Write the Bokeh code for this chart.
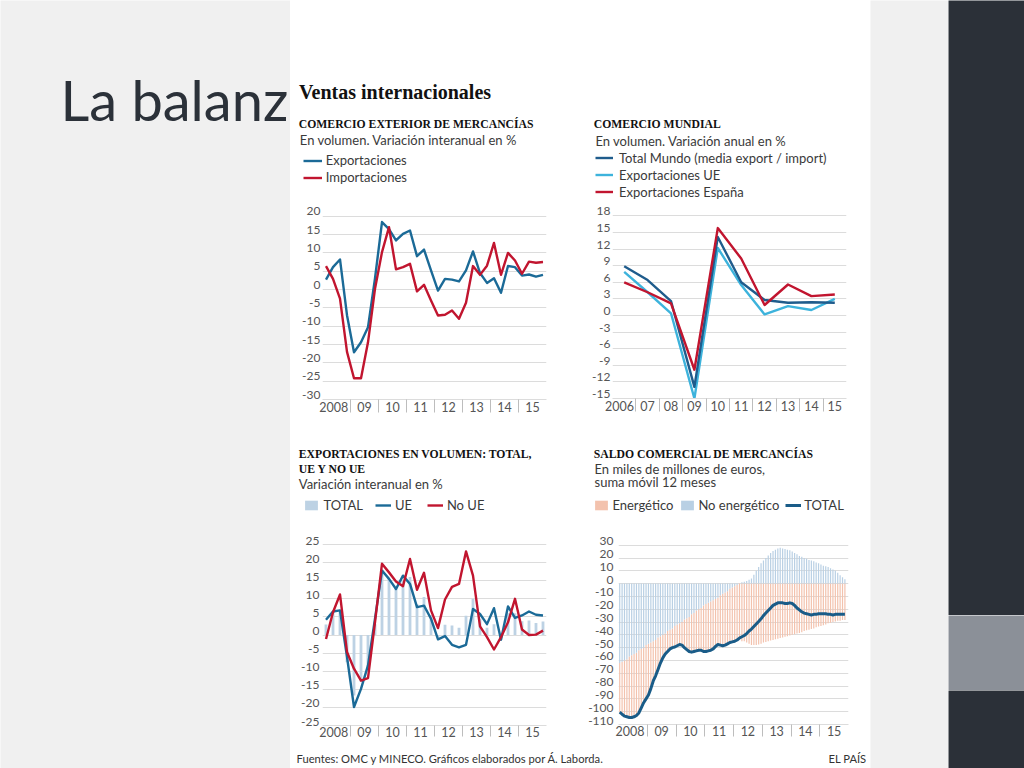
import numpy as np
from bokeh.plotting import figure
from bokeh.models import Range1d, LinearAxis, FixedTicker, Grid, Label, Legend, LegendItem
from bokeh.layouts import row, column
from bokeh.embed import file_html
from bokeh.resources import INLINE

# ---------------- data ----------------
years_q = [2008, 2009, 2010, 2011, 2012, 2013, 2014, 2015]
year_labels = ["2008", "09", "10", "11", "12", "13", "14", "15"]

# Comercio exterior de mercancías (quarterly, % y/y)
exportaciones = [2.7, 6.1, 8.2, -7.0, -17.1, -14.4, -10.3, 3.0, 18.4, 16.5, 13.4, 15.2,
                 16.1, 9.1, 10.9, 5.2, -0.3, 2.9, 2.7, 2.2, 5.2, 10.4, 4.5, 1.8,
                 3.1, -0.9, 6.4, 6.1, 3.8, 4.1, 3.5, 4.0]
importaciones = [6.4, 2.9, -2.5, -17.0, -24.2, -24.2, -14.4, 0.2, 10.2, 17.0, 5.5, 6.1,
                 7.0, -0.5, 1.3, -3.0, -7.1, -6.9, -5.7, -8.0, -3.6, 6.4, 4.0, 6.5,
                 12.7, 4.0, 10.0, 7.9, 4.3, 7.6, 7.3, 7.5]

# Comercio mundial (annual, %)
mundial_years = [2006, 2007, 2008, 2009, 2010, 2011, 2012, 2013, 2014, 2015]
mundial_labels = ["2006", "07", "08", "09", "10", "11", "12", "13", "14", "15"]
total_mundo = [8.9, 6.4, 2.6, -12.9, 14.2, 6.0, 2.8, 2.3, 2.4, 2.3]
export_ue = [7.9, 4.2, 0.4, -15.0, 12.2, 5.5, 0.2, 1.7, 1.0, 3.0]
export_espana = [6.0, 4.2, 2.2, -9.8, 15.8, 10.3, 1.9, 5.6, 3.5, 3.8]

# Exportaciones en volumen: total, UE y no UE (quarterly, % y/y)
total_vol = [2.9, 6.5, 6.8, -7.5, -16.7, -13.0, -10.0, 3.0, 18.0, 15.5, 13.0, 15.0,
             16.0, 8.5, 10.5, 5.5, -0.5, 2.8, 2.6, 2.0, 5.3, 10.0, 4.5, 2.0,
             3.0, -1.0, 6.0, 6.0, 3.8, 4.0, 3.3, 3.7]
ue_vol = [4.2, 6.5, 6.8, -6.0, -19.9, -14.9, -8.4, 4.5, 17.8, 15.5, 12.7, 16.4,
          14.1, 7.7, 8.1, 4.5, -1.2, -0.3, -2.7, -3.4, -2.7, 7.2, 5.8, 3.0,
          7.4, -1.3, 7.9, 4.7, 5.4, 6.5, 5.6, 5.4]
no_ue_vol = [-1.1, 6.3, 11.2, -4.7, -9.3, -12.6, -11.9, 3.5, 19.7, 17.3, 14.8, 13.5,
             21.0, 12.5, 17.2, 6.8, 1.9, 9.8, 13.3, 14.1, 23.1, 16.4, 2.4, -0.6,
             -4.0, -0.6, 3.5, 10.0, 1.5, 0.0, 0.1, 1.2]

# Saldo comercial de mercancías (monthly Jan 2008 - Nov 2015, bn EUR, 12-month sum)
no_energetico = [-62, -61, -60, -59, -57, -56, -55, -54, -52, -51, -50, -48,
                 -47, -46, -45, -44, -42, -41, -40, -39, -37, -36, -35, -33,
                 -32, -31, -30, -28, -27, -26, -24, -23, -21, -20, -19, -17,
                 -16, -15, -14, -13, -12, -11, -9, -8, -7, -6, -4, -3,
                 -2, -1, 0, 1, 1.5, 2, 3, 4, 7, 10, 13, 16,
                 18, 20, 22, 24, 25.5, 26.5, 27.5, 28, 27.5, 27, 26.5, 26,
                 25, 24, 23, 21.5, 21, 20, 19.5, 18.5, 18, 17.5, 16.5, 16,
                 15, 14, 13.5, 13, 12, 11, 10, 8.5, 6.5, 5, 3.5]
energetico = [-38.3, -41, -43.5, -45, -47.5, -48.5, -49, -49, -49, -46, -43, -42,
              -40, -36, -31, -28, -25, -21, -18, -16, -16, -15, -15, -16.5,
              -16.5, -16.5, -18, -22, -24.5, -27, -29.5, -30, -31.5, -32, -33, -36,
              -37, -37.5, -38, -38, -37, -36.5, -39, -40.5, -41, -41, -42, -42.5,
              -43, -43, -43.5, -45, -45, -46, -47, -48, -48, -48, -47.5, -47,
              -46, -45.5, -45, -44.5, -44, -43.5, -43, -42.5, -42, -41.5, -41, -40.5,
              -40, -39.5, -39, -38.5, -38, -37, -36.5, -36, -35.5, -35, -34, -33.5,
              -33, -32.5, -32, -31, -30.5, -30, -29.5, -29, -29, -28.5, -28.5]
saldo_total = [-100.3, -102, -103.5, -104, -104.5, -104.5, -104, -103, -101, -97, -93, -90,
               -87, -82, -76, -72, -67, -62, -58, -55, -53, -51, -50, -49.5,
               -48.5, -47.5, -48, -50, -51.5, -53, -53.5, -53, -52.5, -52, -52, -53,
               -53, -52.5, -52, -51, -49, -47.5, -48, -48.5, -48, -47, -46, -45.5,
               -45, -44, -42.5, -41.5, -40.5, -39, -37, -35.5, -33.5, -31.5, -29.5, -27.5,
               -25, -23, -21, -19, -17, -16, -15, -15, -15, -15.5, -15.5, -15,
               -15.5, -17, -19, -20.5, -22, -23, -23.5, -24, -24.5, -24, -24, -23.5,
               -23.5, -23.5, -23.5, -24, -24, -24.5, -24, -24, -24, -24, -24]

# ---------------- positions derived from the time categories ----------------
qx = [y + (q + 0.5) / 4 for y in years_q for q in range(4)]
mx = [2008 + (m + 0.5) / 12 for m in range(len(saldo_total))]
mid_years = [y + 0.5 for y in years_q]
label_pos_q = [mid_years[0] - 0.1] + mid_years[1:]
year_bounds = [y for y in years_q[1:]]
label_pos_w = [mundial_years[0] - 0.2] + mundial_years[1:]

# ---------------- styles ----------------
SANS = "Lato"
SERIF = "Liberation Serif"
GRID = "#dcdcdc"
TICK = "#555555"
TXT = "#3a3a3a"
BLUE = "#1b6a97"
RED = "#c1152f"
DARKBLUE = "#1f5c8c"
LIGHTBLUE = "#3db3dc"
BAR = "#bdd2e4"
SALMON = "#f3c2ad"
NEBLUE = "#b9d0e4"
TOTAL4 = "#1a5c88"
SLIDE = "#f0f0f0"
DARK = "#2b3038"
MID = "#8b9098"
TITLE_SIZE = 11.7
SUB_SIZE = 13
MID_K = 0.34  # text "middle" sits this fraction of the font size above the baseline


def strip_grids(p):
    p.center = [r for r in p.center if not isinstance(r, Grid)]


def no_align(p):
    try:
        p.frame_align = False
    except Exception:
        pass


def bg_fig(w, h, color):
    p = figure(width=w, height=h, x_range=(0, w), y_range=(0, h),
               x_axis_location=None, y_axis_location=None, toolbar_location=None,
               output_backend="svg", min_border=0)
    no_align(p)
    strip_grids(p)
    p.outline_line_color = None
    p.background_fill_color = color
    p.border_fill_color = color
    return p


def put(p, x, y_base, s, font=SANS, size=SUB_SIZE, color=TXT, bold=False, align="left"):
    p.add_layout(Label(x=x, y=y_base + MID_K * size, text=s, text_font=font,
                       text_font_size=f"{size}px", text_color=color,
                       text_font_style="bold" if bold else "normal",
                       text_baseline="middle", text_align=align))


def make_chart(w, h, mb, xr, y0, ppu, yticks, lab_off, y_standoff,
               xticks, xlabels, xminor, x_gap, sep_len):
    ml, mr, mt, mbot = mb
    fh = h - mt - mbot
    y1 = y0 + fh / ppu
    p = figure(width=w, height=h, x_range=Range1d(*xr), y_range=Range1d(y0, y1),
               x_axis_location="below", y_axis_location=None, toolbar_location=None,
               output_backend="svg", min_border_left=ml, min_border_right=mr,
               min_border_top=mt, min_border_bottom=mbot)
    no_align(p)
    strip_grids(p)
    p.outline_line_color = None
    p.background_fill_color = "white"
    p.border_fill_color = "white"
    d = lab_off / ppu
    p.extra_y_ranges = {"lab": Range1d(y0 - d, y1 - d)}
    ya = LinearAxis(y_range_name="lab", ticker=FixedTicker(ticks=yticks))
    ya.major_label_overrides = {t: str(t) for t in yticks}
    ya.axis_line_color = None
    ya.major_tick_out = 0
    ya.major_tick_in = 0
    ya.minor_tick_out = 0
    ya.minor_tick_in = 0
    ya.major_label_standoff = y_standoff
    ya.major_label_text_font = SANS
    ya.major_label_text_font_size = "12px"
    ya.major_label_text_color = TICK
    p.add_layout(ya, "left")
    p.add_layout(Grid(dimension=1, ticker=FixedTicker(ticks=yticks),
                      grid_line_color=GRID, grid_line_width=1))
    xa = p.xaxis[0]
    xa.ticker = FixedTicker(ticks=xticks, minor_ticks=xminor)
    xa.major_label_overrides = {t: l for t, l in zip(xticks, xlabels)}
    xa.major_tick_out = 0
    xa.major_tick_in = 0
    xa.minor_tick_in = 0
    xa.minor_tick_out = sep_len
    xa.minor_tick_line_color = "#bdbdbd"
    xa.axis_line_color = GRID
    # labels sit beside the year separators, not below them
    xa.major_label_standoff = x_gap - sep_len
    xa.major_label_text_font = SANS
    xa.major_label_text_font_size = "12.5px"
    xa.major_label_text_color = TICK
    return p


def legend(h, items, loc, orientation="vertical", glyph_w=18, glyph_h=15, standoff=5, spacing=1):
    lg = Legend(items=[LegendItem(label=l, renderers=[r]) for l, r in items],
                location=loc, orientation=orientation, glyph_width=glyph_w, glyph_height=glyph_h,
                label_height=15, label_standoff=standoff, spacing=spacing, padding=0, margin=0,
                background_fill_alpha=0, border_line_alpha=0,
                label_text_font=SANS, label_text_font_size=f"{SUB_SIZE}px", label_text_color=TXT)
    h.add_layout(lg)


# legend keys: the series drawn again in the header panel, where they fall outside its range
def key_line(h, xs, ys, color, width=2.4):
    return h.line(xs, ys, line_color=color, line_width=width)


def key_box(h, xs, ys, color):
    return h.vbar(x=xs, top=ys, width=0.1, fill_color=color, line_color=None)


# ---------------- chart 1 ----------------
h1 = bg_fig(290, 95, "white")
put(h1, 8.3, 74.7, "COMERCIO EXTERIOR DE MERCANCÍAS", font=SERIF, size=TITLE_SIZE, color="#111111", bold=True)
put(h1, 9.3, 58.7, "En volumen. Variación interanual en %")
legend(h1, [("Exportaciones", key_line(h1, qx, exportaciones, BLUE)),
            ("Importaciones", key_line(h1, qx, importaciones, RED))],
       (12.7, 17.8), glyph_w=19, standoff=4)
c1 = make_chart(290, 225, (32, 34, 6, 29), (2008, 2016), -30, 183.3 / 50,
                list(range(-30, 21, 5)), 5, 2, label_pos_q, year_labels, year_bounds, 2, 13)
c1.line(qx, exportaciones, line_color=BLUE, line_width=2.4, line_join="round")
c1.line(qx, importaciones, line_color=RED, line_width=2.4, line_join="round")

# ---------------- chart 2 ----------------
h2 = bg_fig(290, 95, "white")
put(h2, 13.3, 74.7, "COMERCIO MUNDIAL", font=SERIF, size=TITLE_SIZE, color="#111111", bold=True)
put(h2, 15, 58, "En volumen. Variación anual en %")
legend(h2, [("Total Mundo (media export / import)", key_line(h2, mundial_years, total_mundo, DARKBLUE)),
            ("Exportaciones UE", key_line(h2, mundial_years, export_ue, LIGHTBLUE)),
            ("Exportaciones España", key_line(h2, mundial_years, export_espana, RED))],
       (15, 3.5), glyph_w=18, standoff=6)
c2 = make_chart(290, 225, (32, 24, 6, 30), (2005.5, 2015.5), -15, 182.6 / 33,
                list(range(-15, 19, 3)), 4.5, 2, label_pos_w, mundial_labels,
                [y + 0.5 for y in mundial_years[:-1]], 2, 13)
c2.line(mundial_years, export_ue, line_color=LIGHTBLUE, line_width=2.4, line_join="round")
c2.line(mundial_years, total_mundo, line_color=DARKBLUE, line_width=2.4, line_join="round")
c2.line(mundial_years, export_espana, line_color=RED, line_width=2.4, line_join="round")

# ---------------- chart 3 ----------------
h3 = bg_fig(290, 103, "white")
put(h3, 8.3, 72.7, "EXPORTACIONES EN VOLUMEN: TOTAL,", font=SERIF, size=TITLE_SIZE, color="#111111", bold=True)
put(h3, 8.3, 58.3, "UE Y NO UE", font=SERIF, size=TITLE_SIZE, color="#111111", bold=True)
put(h3, 8.3, 43.5, "Variación interanual en %")
legend(h3, [("TOTAL", key_box(h3, qx, total_vol, BAR)),
            ("UE", key_line(h3, qx, ue_vol, BLUE)),
            ("No UE", key_line(h3, qx, no_ue_vol, RED))],
       (13.4, 17.8), orientation="horizontal", glyph_w=16, glyph_h=12, standoff=4, spacing=12)
c3 = make_chart(290, 211, (32, 34, 6, 17), (2008, 2016), -25, 181 / 50,
                list(range(-25, 26, 5)), 4, 3, label_pos_q, year_labels, year_bounds, 1, 11)
c3.vbar(x=qx, top=total_vol, bottom=0, width=0.1, fill_color=BAR, line_color=None)
c3.line(qx, ue_vol, line_color=BLUE, line_width=2.4, line_join="round")
c3.line(qx, no_ue_vol, line_color=RED, line_width=2.4, line_join="round")

# ---------------- chart 4 ----------------
ne = np.array(no_energetico, dtype=float)
en = np.array(energetico, dtype=float)
ne_bottom = np.minimum(ne, 0)
ne_top = np.maximum(ne, 0)
en_top = np.minimum(ne, 0)
en_bottom = en_top + en
h4 = bg_fig(290, 103, "white")
put(h4, 13.3, 73.3, "SALDO COMERCIAL DE MERCANCÍAS", font=SERIF, size=TITLE_SIZE, color="#111111", bold=True)
put(h4, 14, 58.3, "En miles de millones de euros,")
put(h4, 14, 44.7, "suma móvil 12 meses")
legend(h4, [("Energético", key_box(h4, mx, energetico, SALMON)),
            ("No energético", key_box(h4, mx, no_energetico, NEBLUE)),
            ("TOTAL", key_line(h4, mx, saldo_total, TOTAL4, 3))],
       (13.4, 17.8), orientation="horizontal", glyph_w=16, glyph_h=12, standoff=3, spacing=6)
c4 = make_chart(290, 211, (38, 22, 7, 18), (2008, 2016), -110, 179.3 / 140,
                list(range(-110, 31, 10)), 4, 5, label_pos_q, year_labels, year_bounds, 1, 12)
w_m = 0.5 / 12
c4.vbar(x=mx, top=en_top, bottom=en_bottom, width=w_m, fill_color=SALMON, line_color=None)
c4.vbar(x=mx, top=ne_top, bottom=ne_bottom, width=w_m, fill_color=NEBLUE, line_color=None)
c4.line(mx, saldo_total, line_color=TOTAL4, line_width=3, line_join="round")

# ---------------- page pieces ----------------
left = bg_fig(290, 768, SLIDE)
put(left, 60, 650, "La balanz", size=56, color="#2b3139")

header = bg_fig(580, 108, "white")
put(header, 8.5, 9.5, "Ventas internacionales", font=SERIF, size=20, color="#111111", bold=True)

footer = bg_fig(580, 26, "white")
put(footer, 6, 6.5, "Fuentes: OMC y MINECO.  Gráficos elaborados por Á. Laborda.", size=11.2, color="#333333")
put(footer, 576, 6.5, "EL PAÍS", size=11.2, color="#333333", align="right")

graphic = column(header,
                 row(column(h1, c1), column(h2, c2)),
                 row(column(h3, c3), column(h4, c4)),
                 footer)
gap = bg_fig(78, 768, SLIDE)
sidebar = column(bg_fig(76, 615, DARK), bg_fig(76, 75, MID), bg_fig(76, 78, DARK))

page = row(left, graphic, gap, sidebar)
open("out.html", "w").write(file_html(page, INLINE))
